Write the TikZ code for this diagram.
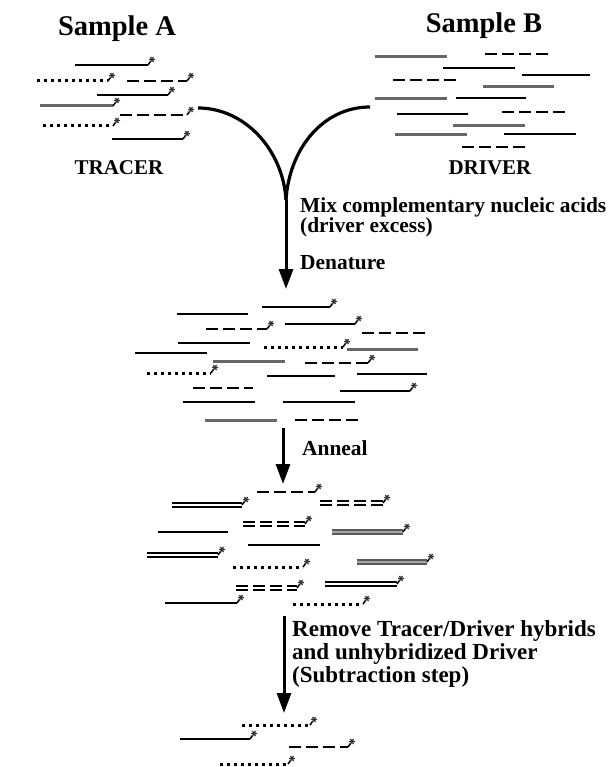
\documentclass[tikz,border=0pt]{standalone}
\usepackage{fontspec}
\setmainfont{Liberation Serif}
\usetikzlibrary{arrows.meta}
\tikzset{
  sline/.style={line width=2.6pt, black},
  gline/.style={line width=3pt, black!60},
  dline/.style={line width=2.8pt, dash pattern=on 12pt off 5pt},
  pline/.style={line width=3pt, dash pattern=on 2.8pt off 4.2pt},
  hline/.style={double, line width=2pt, double distance=1.1pt},
  ghline/.style={double=black!35, draw=black!65, line width=2pt, double distance=1.1pt},
  hdline/.style={hline, dash pattern=on 12pt off 5pt},
  thdline/.style={double, line width=2.4pt, double distance=1.1pt, dash pattern=on 12pt off 5pt},
  hookline/.style={line width=1.5pt},
  bigarrow/.style={line width=3pt, -{Triangle[width=14pt,length=20pt]}},
  curveline/.style={line width=3.2pt},
  titletext/.style={font=\bfseries\fontsize{28.5}{30}\selectfont, anchor=base, inner sep=0pt},
  tagtext/.style={font=\bfseries\fontsize{21}{23}\selectfont, anchor=base, inner sep=0pt},
  lbltext/.style={font=\bfseries\fontsize{21.4}{23}\selectfont, anchor=base west, inner sep=0pt},
  lbltextb/.style={font=\bfseries\fontsize{23}{25}\selectfont, anchor=base west, inner sep=0pt},
  astr/.pic={\draw[line width=1.2pt, black!80] (-3,0)--(3,0) (-1.5,-2.6)--(1.5,2.6) (-1.5,2.6)--(1.5,-2.6);}
}
\newcommand\tipstrand[4]{%
  \draw[#1] (#2,#4) -- (#3,#4);
  \draw[hookline] (#3,#4) -- ++(2.5,-3.5);
  \pic at (#3+4,#4-5.5) {astr};
}
\newcommand\plainstrand[4]{\draw[#1] (#2,#4) -- (#3,#4);}
\begin{document}
\begin{tikzpicture}[x=1pt,y=-1pt]
\useasboundingbox (0,0) rectangle (612,767);
\fill[white] (0,0) rectangle (612,767);

% titles
\node[titletext] (sampleA) at (117,36) {Sample A};
\node[titletext] (sampleB) at (484,33) {Sample B};
\node[tagtext] (tracer) at (119,175) {TRACER};
\node[tagtext] (driver) at (490,175) {DRIVER};

% Sample A (tracer)
\tipstrand{sline}{75}{148}{65}
\tipstrand{pline}{37}{108}{81}
\tipstrand{dline}{127}{187}{81}
\tipstrand{sline}{97}{168}{95}
\tipstrand{gline}{40}{113}{106}
\tipstrand{dline}{120}{187}{115}
\tipstrand{pline}{43}{113}{126}
\tipstrand{sline}{112}{183}{139}

% Sample B (driver)
\plainstrand{gline}{375}{447}{57}
\plainstrand{dline}{485}{548}{54}
\plainstrand{sline}{443}{515}{68}
\plainstrand{sline}{522}{590}{75}
\plainstrand{dline}{393}{457}{80}
\plainstrand{gline}{483}{554}{87}
\plainstrand{gline}{375}{447}{99}
\plainstrand{sline}{456}{526}{98}
\plainstrand{dline}{502}{565}{112}
\plainstrand{sline}{397}{468}{114}
\plainstrand{gline}{453}{525}{126}
\plainstrand{gline}{395}{467}{135}
\plainstrand{sline}{504}{576}{134}
\plainstrand{dline}{462}{525}{147}

% mixing curves and denature arrow
\coordinate (srcA) at (198,108);
\coordinate (srcB) at (370,107);
\coordinate (join) at (286,200);
\coordinate (denat) at (286,289);
\draw[curveline] (srcA) .. controls (245,108) and (283,150) .. (join);
\draw[curveline] (srcB) .. controls (322,107) and (289,150) .. (join);
\draw[bigarrow] (join) -- (denat);

\node[lbltext] (mix) at (300,212) {Mix complementary nucleic acids};
\node[lbltext] (excess) at (300,233) {(driver excess)};
\node[lbltext] (denature) at (300,269) {Denature};

% Denatured mixture
\plainstrand{sline}{177}{248}{314}
\tipstrand{sline}{262}{330}{307}
\tipstrand{dline}{206}{267}{329}
\tipstrand{sline}{285}{355}{324}
\plainstrand{dline}{362}{425}{333}
\plainstrand{sline}{178}{250}{343}
\tipstrand{pline}{264}{343}{347}
\plainstrand{gline}{347}{418}{349}
\plainstrand{sline}{135}{207}{353}
\plainstrand{gline}{213}{285}{361}
\tipstrand{dline}{305}{368}{363}
\tipstrand{pline}{147}{211}{373}
\plainstrand{sline}{267}{335}{376}
\plainstrand{sline}{357}{427}{374}
\plainstrand{dline}{193}{253}{388}
\tipstrand{sline}{340}{410}{391}
\plainstrand{sline}{183}{255}{402}
\plainstrand{sline}{283}{355}{402}
\plainstrand{gline}{205}{277}{420}
\plainstrand{dline}{295}{358}{420}

% Anneal arrow
\coordinate (annealTop) at (283,428);
\coordinate (annealEnd) at (283,484);
\draw[bigarrow] (annealTop) -- (annealEnd);
\node[lbltext] (anneal) at (302,455) {Anneal};

% Annealed mixture
\tipstrand{dline}{257}{315}{492}
\tipstrand{hline}{172}{242}{505}
\tipstrand{hdline}{320}{383}{503}
\tipstrand{thdline}{243}{305}{524}
\plainstrand{sline}{158}{228}{532}
\tipstrand{ghline}{332}{403}{532}
\plainstrand{sline}{248}{320}{545}
\tipstrand{hline}{147}{218}{555}
\tipstrand{pline}{233}{303}{567}
\tipstrand{ghline}{357}{427}{562}
\tipstrand{thdline}{236}{297}{588}
\tipstrand{hline}{325}{397}{584}
\tipstrand{sline}{165}{237}{603}
\tipstrand{pline}{293}{363}{604}

% Subtraction arrow
\coordinate (subTop) at (284,616);
\coordinate (subEnd) at (284,713);
\draw[bigarrow] (subTop) -- (subEnd);
\node[lbltextb] (remove1) at (292,636) {Remove Tracer/Driver hybrids};
\node[lbltextb] (remove2) at (292,659) {and unhybridized Driver};
\node[lbltextb] (remove3) at (292,682) {(Subtraction step)};

% Subtracted tracer
\tipstrand{pline}{242}{310}{725}
\tipstrand{sline}{180}{250}{739}
\tipstrand{dline}{289}{348}{747}
\tipstrand{pline}{220}{288}{764}
\end{tikzpicture}
\end{document}
